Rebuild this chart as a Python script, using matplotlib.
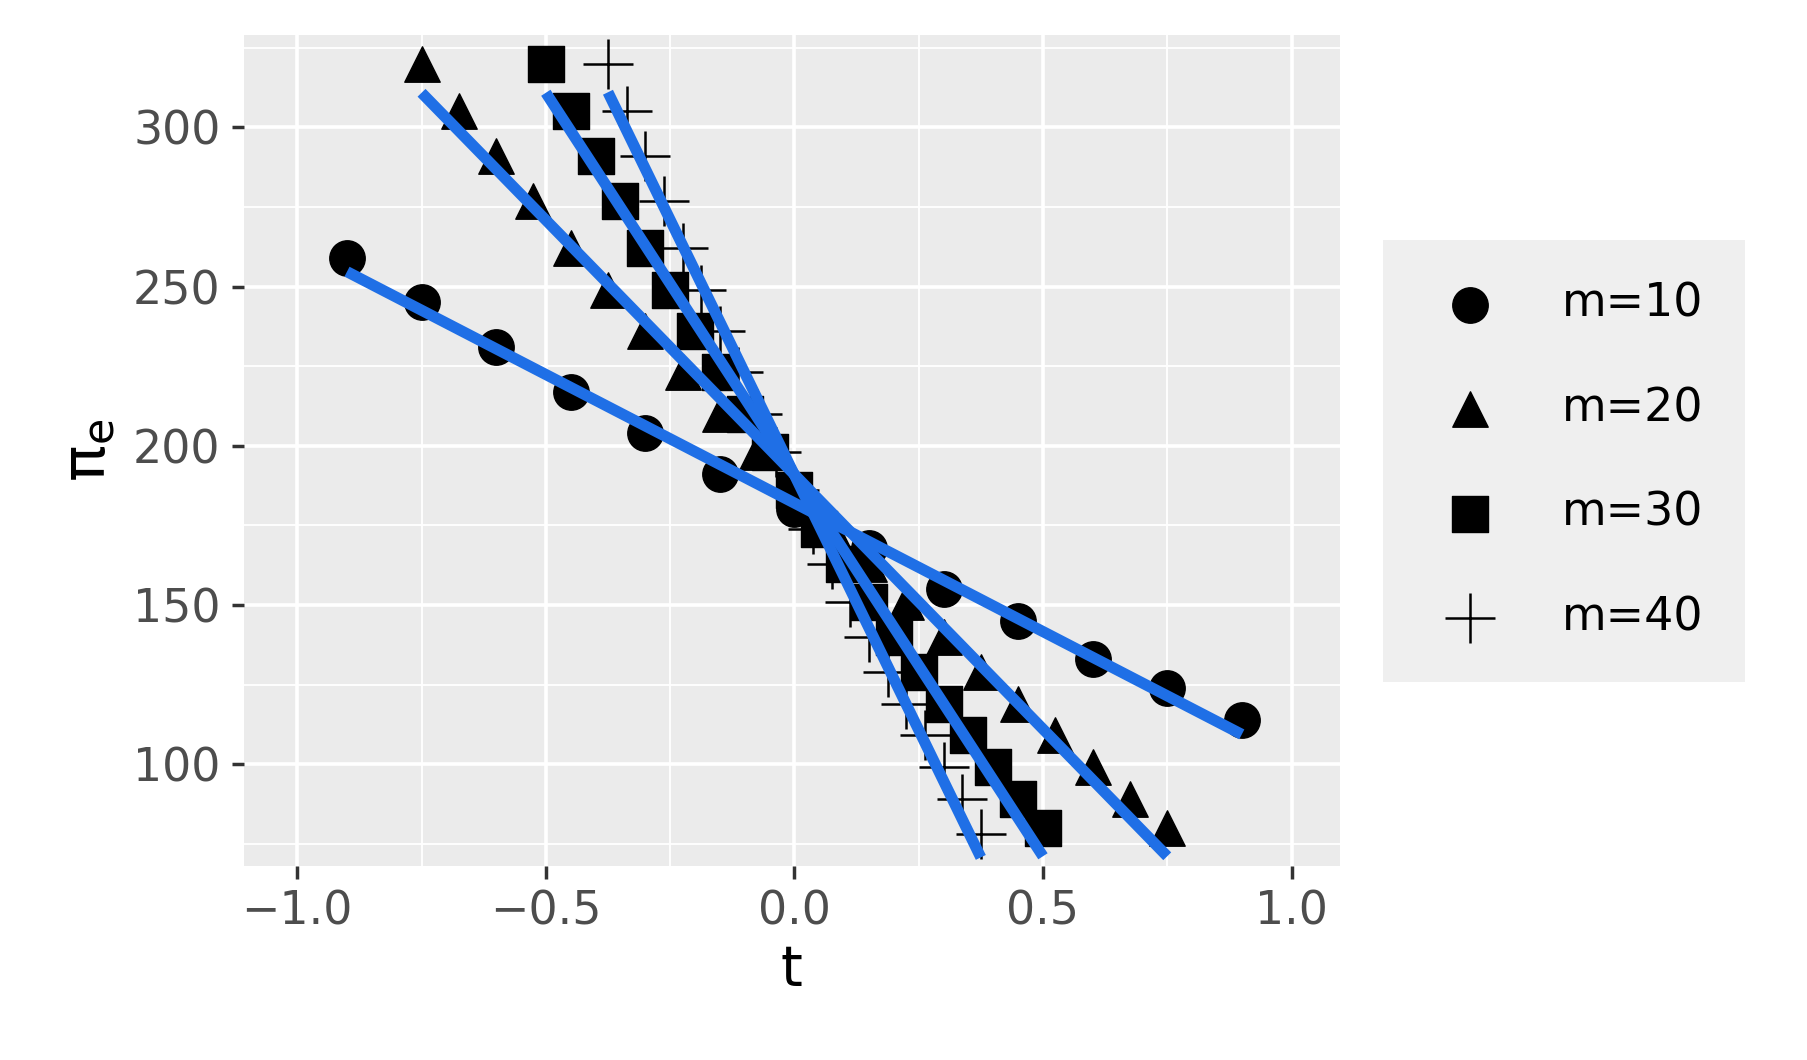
import numpy as np
import matplotlib.pyplot as plt

t10 = [-0.9,-0.75,-0.6,-0.45,-0.3,-0.15,0,0.15,0.3,0.45,0.6,0.75,0.9]
y10 = [259,245,231,217,204,191,180,168,155,145,133,124,114]
t20 = [-0.75,-0.675,-0.6,-0.525,-0.45,-0.375,-0.3,-0.225,-0.15,-0.075,0,0.075,0.15,0.225,0.3,0.375,0.45,0.525,0.6,0.675,0.75]
y20 = [320,305,291,277,262,249,236,223,210,198,186,174,163,151,140,129,119,109,99,89,80]
t30 = [-0.5,-0.45,-0.4,-0.35,-0.3,-0.25,-0.2,-0.15,-0.1,-0.05,0,0.05,0.1,0.15,0.2,0.25,0.3,0.35,0.4,0.45,0.5]
y30 = [320,305,291,277,262,249,236,223,210,198,186,174,163,151,140,129,119,109,99,89,80]
t40 = [-0.375,-0.3375,-0.3,-0.2625,-0.225,-0.1875,-0.15,-0.1125,-0.075,-0.0375,0,0.0375,0.075,0.1125,0.15,0.1875,0.225,0.2625,0.3,0.3375,0.375]
y40 = [320,305,291,277,262,249,236,223,210,198,186,174,163,151,140,129,119,109,99,89,78]
labels = ['m=10','m=20','m=30','m=40']
markers = ['o','^','s','+']

fig = plt.figure(figsize=(18.08,10.6), dpi=100)
ax = fig.add_axes([0.135,0.183,0.606,0.784])
ax.set_facecolor('#EBEBEB')
ax.set_xlim(-1.107,1.097); ax.set_ylim(68,329)
ax.set_xticks([-1,-0.5,0,0.5,1]); ax.set_xticklabels(['−1.0','−0.5','0.0','0.5','1.0'])
ax.set_yticks([100,150,200,250,300])
ax.set_xticks([-0.75,-0.25,0.25,0.75], minor=True)
ax.set_yticks([75,125,175,225,275,325], minor=True)
ax.grid(True, which='major', color='white', lw=2.6)
ax.grid(True, which='minor', color='white', lw=1.3)
ax.set_axisbelow(True)
for s in ax.spines.values(): s.set_visible(False)
ax.tick_params(which='major', length=9, width=2.5, color='#333333', labelsize=33, labelcolor='#4D4D4D', pad=8)
ax.tick_params(which='minor', length=0)
ax.set_xlabel('t', fontsize=40, labelpad=6); ax.set_ylabel(r'$\mathregular{\pi_e}$', fontsize=44, labelpad=10)
handles=[]
for t,y,lab,mk in zip([t10,t20,t30,t40],[y10,y20,y30,y40],labels,markers):
    t=np.array(t); y=np.array(y)
    if mk=='+':
        h=ax.scatter(t,y,marker='+',s=1300,c='black',lw=1.8,zorder=2,label=lab)
    else:
        h=ax.scatter(t,y,marker=mk,s=650,c='black',zorder=2,label=lab)
    handles.append(h)
    p=np.polyfit(t,y,1)
    ax.plot([t.min(),t.max()],np.polyval(p,[t.min(),t.max()]),color='#1F6FE6',lw=8,zorder=3,solid_capstyle='butt')
leg=fig.legend(handles=handles,loc='center',bbox_to_anchor=(0.865,0.565),frameon=True,fontsize=33,
               labelspacing=1.3,handletextpad=1.0,borderpad=0.9,facecolor='#EBEBEB',edgecolor='none',fancybox=False)
fig.savefig('out.png',dpi=100)
